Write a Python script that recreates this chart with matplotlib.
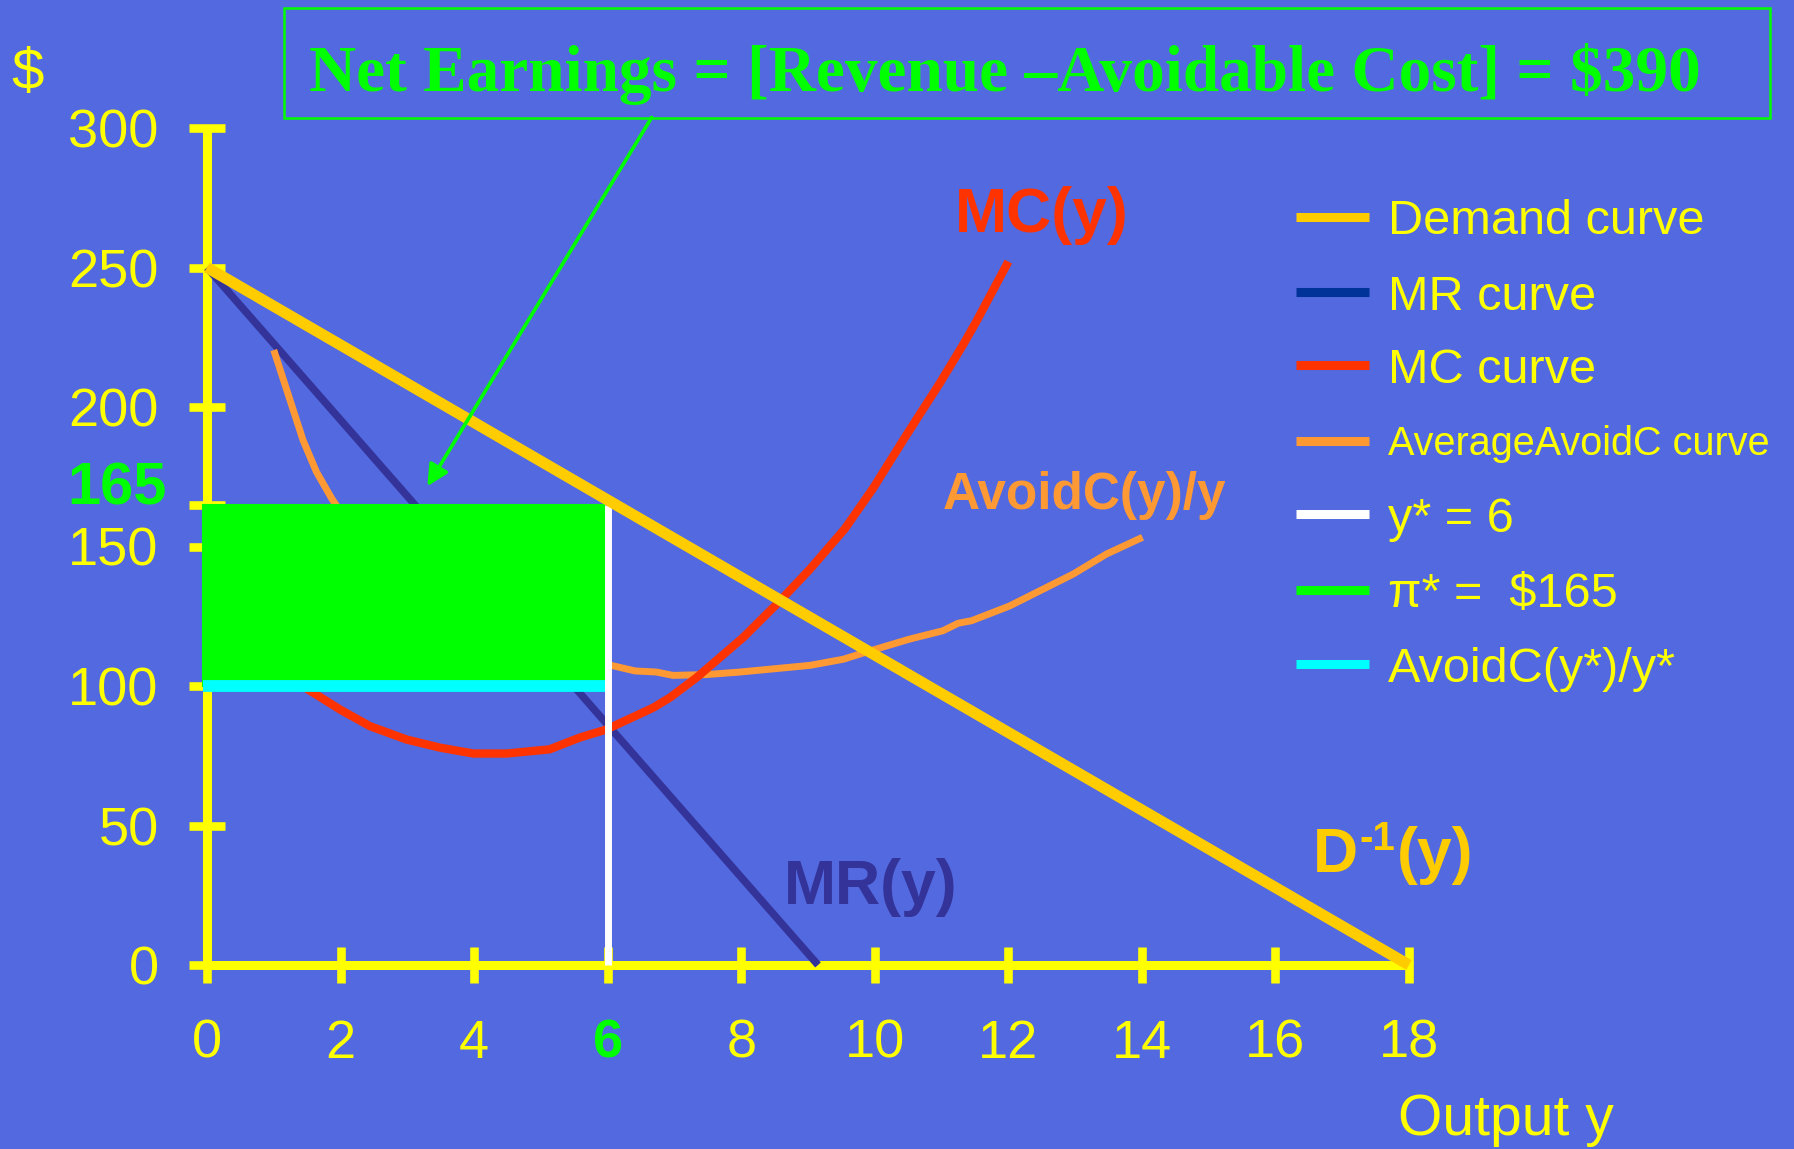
import matplotlib
matplotlib.use("Agg")
import matplotlib.pyplot as plt
from matplotlib.patches import Rectangle
from matplotlib.lines import Line2D
from matplotlib.transforms import offset_copy

plt.rcParams['font.family'] = ['Liberation Sans', 'DejaVu Sans']

# ---- data -------------------------------------------------------------
demand_x = [0, 18]
demand_y = [250, 0]

mr_x = [0, 9.15]
mr_y = [250, 0]

mc_x = [1.0, 1.39, 1.99, 2.44, 2.99, 3.49, 3.99, 4.49, 5.13, 5.58, 5.98,
        6.68, 6.93, 7.33, 8.03, 8.58, 9.03, 9.55, 9.97, 10.47, 10.97,
        11.32, 11.52, 12.0]
mc_y = [104, 100.6, 91.6, 85.6, 80.8, 77.9, 75.8, 75.8, 77.3, 81.5, 84.4,
        92.2, 95.8, 103.0, 117.4, 130.5, 141.9, 156.3, 170.7, 189.8, 208.4,
        222.2, 230.6, 252.1]

avc_x = [1.0, 1.22, 1.44, 1.64, 1.87, 2.5, 3.0, 4.0, 5.0, 5.98, 6.41, 6.73,
         6.98, 7.48, 7.98, 9.03, 9.53, 9.93, 10.52, 11.02, 11.25, 11.45,
         12.02, 12.47, 12.97, 13.47, 14.01]
avc_y = [220.4, 204.2, 188.0, 176.7, 167.1, 145, 132, 118, 111, 107.8,
         105.4, 105.0, 103.8, 104.1, 105.0, 107.4, 109.6, 112.6, 116.8,
         119.8, 122.5, 123.4, 128.7, 134.1, 140.1, 147.3, 153.3]

y_star = 6
price_star = 165
avoid_avg_star = 100

x_ticks = [0, 2, 4, 6, 8, 10, 12, 14, 16, 18]
y_ticks = [0, 50, 100, 150, 165, 200, 250, 300]

legend_labels = ["Demand curve", "MR curve", "MC curve",
                 "AverageAvoidC curve", "y* = 6", "\u03c0* =  $165",
                 "AvoidC(y*)/y*"]
legend_colors = ["#FFCC00", "#003399", "#FF3300", "#FF9933",
                 "#FFFFFF", "#00FF00", "#00FFFF"]

title_text = "Net Earnings = [Revenue \u2013Avoidable Cost] = $390"

# ---- figure -------------------------------------------------------------
W, H = 1794, 1149
BG = "#5369DF"
YEL = "#FFFF00"
fig = plt.figure(figsize=(W / 100, H / 100), dpi=100, facecolor=BG)


def fx(px):
    return px / W


def fy(py):
    return 1 - py / H


ax = fig.add_axes([fx(207), fy(965), fx(1409) - fx(207), fy(128) - fy(965)])
ax.set_facecolor("none")
ax.set_xlim(0, 18)
ax.set_ylim(0, 300)
ax.set_axisbelow(True)

for side in ("top", "right"):
    ax.spines[side].set_visible(False)
for side in ("left", "bottom"):
    ax.spines[side].set_color(YEL)
    ax.spines[side].set_linewidth(6.5)
    ax.spines[side].set_zorder(0.5)
    ax.spines[side].set_capstyle("butt")

ax.set_xticks(x_ticks)
ax.set_yticks(y_ticks)
ax.set_xticklabels([str(t) for t in x_ticks])
ax.set_yticklabels(["" if t == 165 else str(t) for t in y_ticks])
ax.tick_params(axis="both", direction="inout", length=25.5, width=6.2,
               color=YEL, labelcolor=YEL, labelsize=39)
ax.tick_params(axis="y", pad=22)
ax.tick_params(axis="x", pad=26)
for lbl in ax.get_xticklabels():
    if lbl.get_text() == "6":
        lbl.set_color("#00FF00")
        lbl.set_fontweight("bold")

# ---- curves -------------------------------------------------------------
ax.plot(mr_x, mr_y, color="#333399", lw=5.4, zorder=2,
        solid_capstyle="butt", clip_on=False)
ax.plot(avc_x, avc_y, color="#FF9933", lw=5, zorder=2.1,
        solid_capstyle="butt", clip_on=False)
ax.plot(mc_x, mc_y, color="#FF3300", lw=6, zorder=2.2,
        solid_capstyle="butt", clip_on=False)

# net earnings rectangle
ax.add_patch(Rectangle((-0.06, avoid_avg_star), y_star, price_star - avoid_avg_star,
                       facecolor="#00FF00", edgecolor="#00FF00", lw=1.5,
                       zorder=3, clip_on=False))
ax.plot([-0.06, y_star], [avoid_avg_star, avoid_avg_star], color="#00FFFF",
        lw=8.5, zorder=3.5, solid_capstyle="butt", clip_on=False)
ax.plot([y_star, y_star], [0, price_star], color="#FFFFFF", lw=5,
        zorder=3.5, solid_capstyle="butt", clip_on=False)

ax.plot(demand_x, demand_y, color="#FFCC00", lw=8, zorder=4,
        solid_capstyle="butt", clip_on=False)

# ---- labels ---------------------------------------------------------------
ax.text(11.2, 262.7, "MC(y)", color="#FF3300", fontsize=45,
        fontweight="bold", ha="left", va="baseline")
ax.text(11.02, 163.4, "AvoidC(y)/y", color="#FF9933", fontsize=37,
        fontweight="bold", ha="left", va="baseline")
ax.text(8.64, 21.9, "MR(y)", color="#333399", fontsize=45,
        fontweight="bold", ha="left", va="baseline")
ax.text(17.83, -60.9, "Output y", color=YEL, fontsize=41,
        ha="left", va="baseline", clip_on=False)
ax.text(-2.68, 314, "$", color=YEL, fontsize=42, ha="center",
        va="baseline", clip_on=False)
ax.text(-0.61, 165.2, "165", color="#00FF00", fontsize=43,
        fontweight="bold", ha="right", va="baseline", clip_on=False)

# inverse demand label: "D", raised "-1", then "(y)"
renderer = fig.canvas.get_renderer()
d_txt = ax.text(16.56, 33.3, "D", color="#FFCC00", fontsize=45,
                fontweight="bold", ha="left", va="baseline")
d_w = d_txt.get_window_extent(renderer).width
sup = ax.text(16.56, 33.3, "-1", color="#FFCC00", fontsize=29,
              fontweight="bold", ha="left", va="baseline",
              transform=offset_copy(ax.transData, fig=fig, x=d_w + 1,
                                    y=22, units="dots"))
s_w = sup.get_window_extent(renderer).width
ax.text(16.56, 33.3, "(y)", color="#FFCC00", fontsize=45,
        fontweight="bold", ha="left", va="baseline",
        transform=offset_copy(ax.transData, fig=fig, x=d_w + s_w + 3,
                              y=0, units="dots"))

# ---- title box and arrow ------------------------------------------------------
fig.add_artist(Rectangle((fx(284), fy(118)), fx(1770) - fx(284),
                         fy(8) - fy(118), transform=fig.transFigure,
                         facecolor="none", edgecolor="#00FF00", lw=1.8))
fig.text(fx(1005), fy(91), title_text, color="#00FF00", fontsize=47,
         fontweight="bold", family=["Liberation Serif", "DejaVu Serif"],
         ha="center", va="baseline")

ax.annotate("", xy=(3.30, 171.6), xytext=(6.66, 303.8),
            arrowprops=dict(arrowstyle="-|>", color="#00FF00", lw=2.6,
                            mutation_scale=32, shrinkA=0, shrinkB=0),
            annotation_clip=False, zorder=5)

# ---- legend ---------------------------------------------------------------
legend_rows = [217, 292, 365, 441, 514, 590, 664]
for row, label, color in zip(legend_rows, legend_labels, legend_colors):
    size = 28.5 if label.startswith("Average") else 35
    fig.add_artist(Line2D([fx(1296), fx(1369)], [fy(row), fy(row)],
                          transform=fig.transFigure, color=color, lw=6.5,
                          solid_capstyle="butt"))
    fig.text(fx(1388), fy(row + 0.36 * size * 100 / 72), label, color=YEL,
             fontsize=size, ha="left", va="baseline")

fig.savefig("out.png", dpi=100, facecolor=BG)
